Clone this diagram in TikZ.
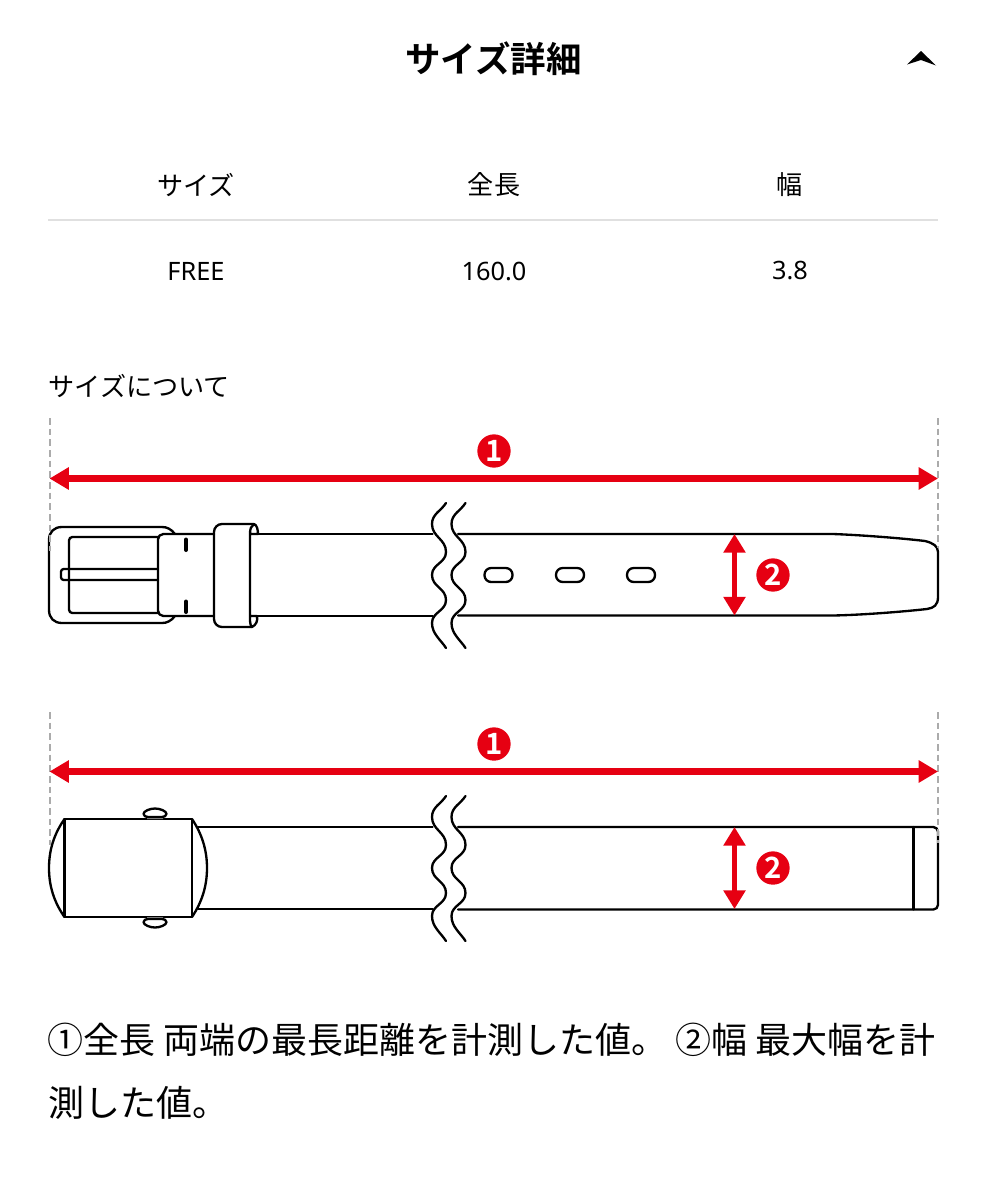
\documentclass[tikz,border=0pt]{standalone}
\usepackage{fontspec}
\setmainfont{Noto Sans CJK JP}[BoldFont={Noto Sans CJK JP Bold}]
\newfontfamily\latinfont{Noto Sans}
\usetikzlibrary{arrows.meta}
\definecolor{markred}{HTML}{E60012}
\tikzset{
  beltline/.style={line width=1.75pt,line join=round,line cap=round},
  guideline/.style={draw=black!33,line width=1.5pt,dash pattern=on 5pt off 3pt},
  longarrow/.style={markred,line width=5pt,{Triangle[length=14.5pt,width=16pt]}-{Triangle[length=14.5pt,width=16pt]}},
  shortarrow/.style={markred,line width=3.4pt,{Triangle[length=14pt,width=16pt]}-{Triangle[length=14pt,width=16pt]}},
  marknum/.style={circle,fill=markred,text=white,minimum size=25pt,inner sep=0pt,font=\fontsize{22}{22}\selectfont\bfseries},
  tabletext/.style={font=\fontsize{19.6}{22}\selectfont},
  tablenum/.style={font=\fontsize{19}{22}\selectfont\latinfont},
  notetext/.style={anchor=base west,inner sep=0pt,font=\fontsize{27}{30}\selectfont}
}
\begin{document}
\begin{tikzpicture}[x=0.75pt,y=-0.75pt]
  \useasboundingbox (0,0) rectangle (985,1200);
  \path
  (49.5,418) coordinate (GL1)
  (49.5,551) coordinate (GL2)
  (938,418) coordinate (GR1)
  (938,548) coordinate (GR2)
  (49.5,712) coordinate (HL1)
  (49.5,845) coordinate (HL2)
  (938,712) coordinate (HR1)
  (938,843) coordinate (HR2)
  (49.5,478.5) coordinate (AL)
  (938,478.5) coordinate (AR)
  (49.5,771.5) coordinate (BL)
  (938,771.5) coordinate (BR)
  (734.5,534) coordinate (WT)
  (734.5,615.5) coordinate (WB)
  (734.5,827) coordinate (XT)
  (734.5,909) coordinate (XB)
  (48,220) coordinate (RL)
  (938,220) coordinate (RR)
  ;
  % heading
  \node[font=\fontsize{26.6}{30}\selectfont\bfseries] (title) at (493.5,59) {サイズ詳細};
  \fill (907,64.5) -- (921,51) -- (936,65.5) -- (921,60) -- cycle;
  % table
  \node[tabletext] (sizehead) at (196,185) {サイズ};
  \node[tabletext] (lenhead) at (494,185) {全長};
  \node[tabletext] (widhead) at (790,185) {幅};
  \draw[black!12,line width=0.8pt] (RL) -- (RR);
  \node[tablenum] (sizeval) at (196,271) {FREE};
  \node[tablenum] (lenval) at (494,271) {160.0};
  \node[tablenum] (widval) at (790,271) {3.8};
  \node[anchor=west,inner sep=0pt,font=\fontsize{19.6}{22}\selectfont] (about) at (48.5,386) {サイズについて};
  % upper belt
  \draw[beltline] (175,534) .. controls (171,529) and (167,527) .. (162,527) -- (62,527)
  .. controls (54,527) and (49,532) .. (49,540) -- (49,610)
  .. controls (49,618) and (54,623) .. (62,623) -- (162,623)
  .. controls (167,623) and (171,621) .. (175,616);
  \draw[beltline,rounded corners=2.5pt] (158,537) -- (69,537) -- (69,613) -- (158,613);
  \draw[beltline,rounded corners=2pt] (158,569) -- (61,569) -- (61,580) -- (158,580);
  \draw[beltline,rounded corners=4pt] (214,534) -- (158,534) -- (158,616) -- (214,616);
  \draw[line width=3pt,line cap=round] (186,539.5) -- (186,550) (186,601.5) -- (186,612);
  \draw[beltline,rounded corners=6pt] (254,524) -- (214,524) -- (214,627) -- (252,627);
  \draw[beltline] (250,534) -- (250,621) .. controls (250,624) and (251,626) .. (252,627)
  .. controls (256,625) and (258,621) .. (257,616) -- (250,616)
  (250,534) .. controls (250,529) and (251,526) .. (254,524)
  .. controls (257,525) and (258,530) .. (258,534) -- (250,534);
  \draw[beltline] (258,534) -- (432.5,534) (257,616) -- (432.5,616);
  \draw[beltline] (458,534) -- (833,534) .. controls (860,535) and (900,538) .. (925,541)
  .. controls (933,543) and (938,546) .. (938,552) -- (938,597)
  .. controls (938,605) and (934,608) .. (927,609) .. controls (900,612) and (860,615) .. (833,615.5) -- (458,615.5);
  \foreach \x in {484.5,556,627}
  \draw[beltline,rounded corners=5pt] (\x,568) rectangle (\x+28,582);
  % lower belt
  \draw[beltline] (64.5,819) rectangle (192,917);
  \draw[beltline] (64.5,819) .. controls (54,834) and (49,850) .. (49,868) .. controls (49,886) and (54,902) .. (64.5,917);
  \draw[beltline] (192,819) .. controls (202,834) and (207,850) .. (207,868) .. controls (207,886) and (202,902) .. (192,917);
  \fill[black!45] (147,817) rectangle (163,819) (147,917) rectangle (163,919);
  \draw[beltline] (143.5,814) .. controls (143.5,811) and (150,808.5) .. (155,808.5) .. controls (160,808.5) and (166.5,811) .. (166.5,814)
  .. controls (166.5,816) and (164,817) .. (162,817) -- (148,817) .. controls (146,817) and (143.5,816) .. (143.5,814);
  \draw[beltline] (143.5,922) .. controls (143.5,925) and (150,927.5) .. (155,927.5) .. controls (160,927.5) and (166.5,925) .. (166.5,922)
  .. controls (166.5,920) and (164,919) .. (162,919) -- (148,919) .. controls (146,919) and (143.5,920) .. (143.5,922);
  \draw[beltline] (198,827) -- (432.5,827) (198,909) -- (432.5,909);
  \draw[beltline,rounded corners=3.5pt] (458,827) -- (938,827) -- (938,909.5) -- (458,909.5);
  \draw[beltline] (913.5,827) -- (913.5,909.5);
  % break marks
  \foreach \dy in {0,293}
  \foreach \dx in {0,19.5}
  \draw[beltline] (446+\dx,503+\dy) .. controls (441+\dx,511+\dy) and (432+\dx,514+\dy) .. (432+\dx,524+\dy)
  .. controls (432+\dx,537+\dy) and (446+\dx,539+\dy) .. (446+\dx,552+\dy)
  .. controls (446+\dx,563+\dy) and (432+\dx,564+\dy) .. (432+\dx,575+\dy)
  .. controls (432+\dx,587+\dy) and (446+\dx,588+\dy) .. (446+\dx,600+\dy)
  .. controls (446+\dx,611+\dy) and (432+\dx,612+\dy) .. (432+\dx,623+\dy)
  .. controls (432+\dx,634+\dy) and (441+\dx,640+\dy) .. (446+\dx,648+\dy);
  % guides and arrows
  \foreach \a/\b in {GL1/GL2,GR1/GR2,HL1/HL2,HR1/HR2}
  \draw[guideline] (\a) -- (\b);
  \foreach \a/\b in {AL/AR,BL/BR}
  \draw[longarrow] (\a) -- (\b);
  \foreach \a/\b in {WT/WB,XT/XB}
  \draw[shortarrow] (\a) -- (\b);
  \foreach \n/\t/\x/\y in {one/1/494/451,two/2/773/575,three/1/494/744,four/2/773/868}
  \node[marknum] (\n) at (\x,\y) {\t};
  % note
  \node[notetext] (noteone) at (47,1053) {①全長 両端の最長距離を計測した値。 ②幅 最大幅を計};
  \node[notetext] (notetwo) at (48,1116) {測した値。};
\end{tikzpicture}
\end{document}
